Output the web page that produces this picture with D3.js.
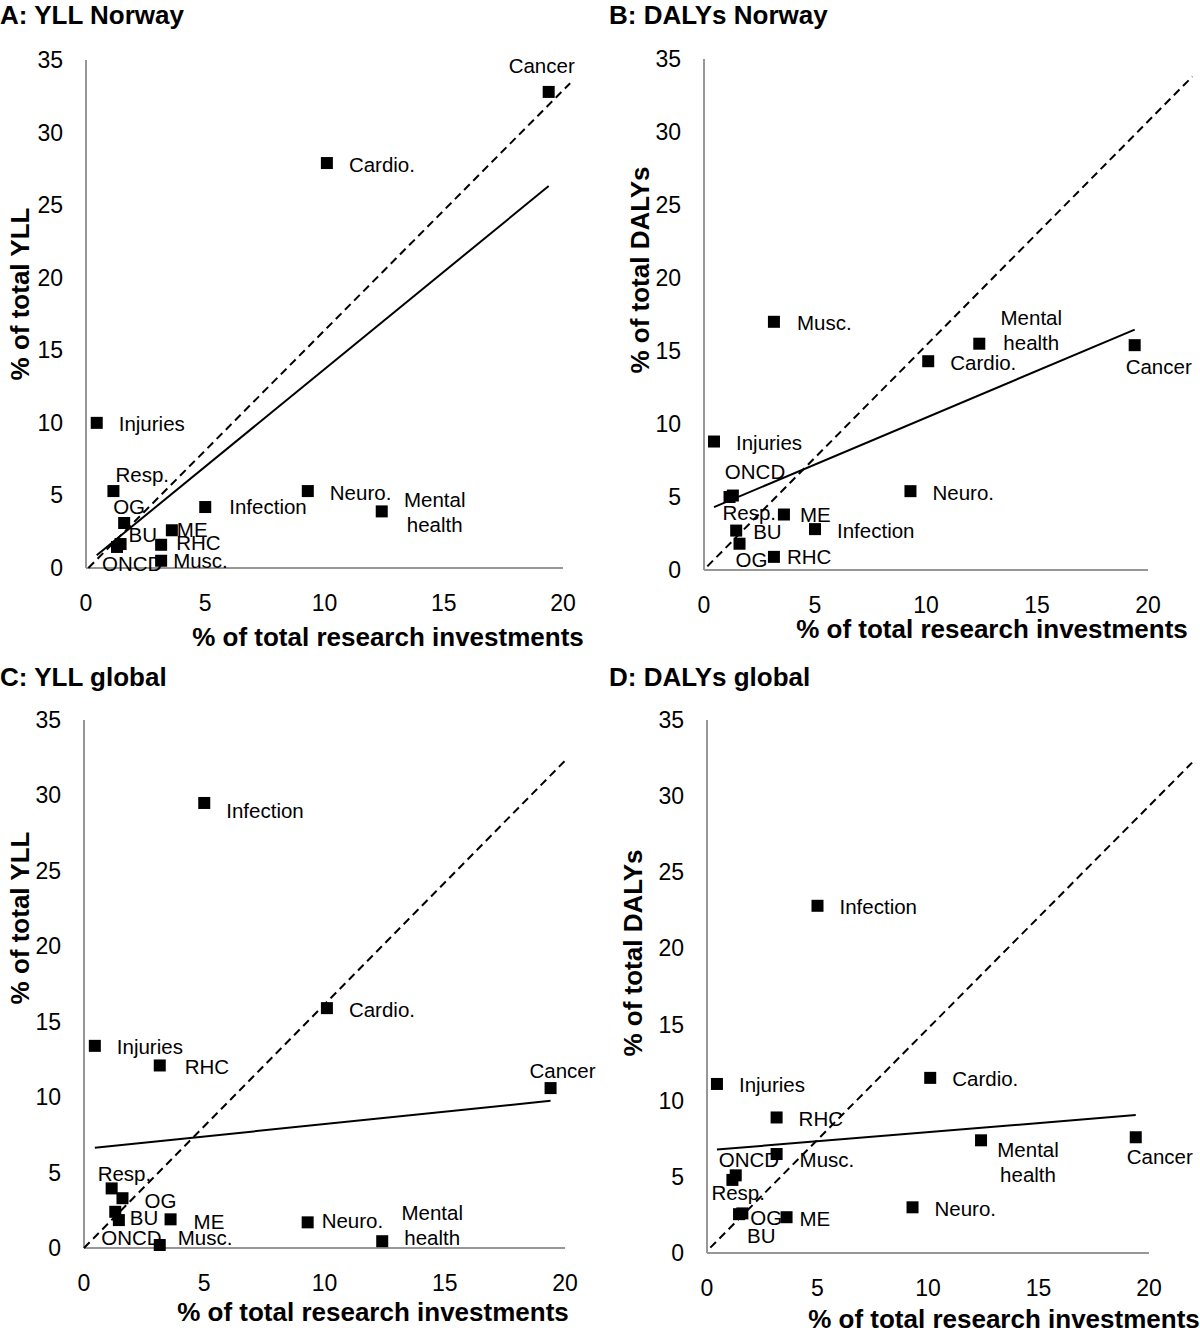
<!DOCTYPE html>
<html>
<head>
<meta charset="utf-8">
<script src="https://cdn.jsdelivr.net/npm/d3@7"></script>
<style>
  html, body { margin: 0; padding: 0; background: #fff; }
  svg { display: block; }
  text { font-family: "Liberation Sans", Arial, Helvetica, sans-serif; fill: #000; }
</style>
</head>
<body>
<svg id="chart" width="1200" height="1334"></svg>
<script>
// ---------------- DATA ----------------
const categories = ["Cancer", "Cardio.", "Injuries", "Resp.", "OG", "BU", "ONCD", "ME", "RHC", "Musc.", "Infection", "Neuro.", "Mental health"];
// % of total research investments (x, shared by all panels)
const investment = [19.4, 10.1, 0.45, 1.15, 1.6, 1.45, 1.3, 3.6, 3.15, 3.15, 5.0, 9.3, 12.4];
// % of total burden (y)
const yllNorway  = [32.8, 27.9, 10.0, 5.3, 3.1, 1.65, 1.45, 2.6, 1.6, 0.5, 4.2, 5.3, 3.9];
const dalyNorway = [15.4, 14.3, 8.8, 5.0, 1.8, 2.7, 5.1, 3.8, 0.9, 17.0, 2.8, 5.4, 15.5];
const yllGlobal  = [10.6, 15.9, 13.4, 3.95, 3.3, 1.85, 2.4, 1.9, 12.1, 0.2, 29.5, 1.7, 0.45];
const dalyGlobal = [7.6, 11.5, 11.1, 4.8, 2.6, 2.55, 5.1, 2.35, 8.9, 6.5, 22.8, 3.0, 7.4];
const xTicks = [0, 5, 10, 15, 20];
const yTicks = [0, 5, 10, 15, 20, 25, 30, 35];
const panelTitles = ["A: YLL Norway", "B: DALYs Norway", "C: YLL global", "D: DALYs global"];
const yTitles = ["% of total YLL", "% of total DALYs", "% of total YLL", "% of total DALYs"];
const xTitle = "% of total research investments";
// dashed reference line endpoints, in data units [x0, y0, x1, y1]
const refLines = [[0.1, 0, 20.3, 33.4], [0.15, 0.25, 22.0, 33.8], [0, 0, 20.0, 32.3], [0.15, 0.35, 21.95, 32.2]];

// ---------------- LAYOUT (pixels) ----------------
const layout = [
  { x: [86, 563],  y: [568, 60],   title: [0, 15],   xt: [388, 637],  yt: [20, 294] },
  { x: [704, 1148], y: [570, 59],  title: [609, 15], xt: [992, 629],  yt: [640, 270] },
  { x: [84, 565],  y: [1248, 720], title: [0, 677],  xt: [373, 1312], yt: [20, 918] },
  { x: [707, 1149], y: [1253, 720], title: [609, 677], xt: [1004, 1319], yt: [633, 953] }
];
// label placement [anchor, dx, dy] relative to marker, order matches categories
const labelPos = [
  [["m",-7,-26],["s",22,1],["s",22,1],["s",2,-17],["s",-11,-17],["s",8,-10],["s",-15,17],["s",5,-1],["s",15,-2],["s",12,0],["s",24,-1],["s",22,1],["m",53,-12]],
  [["m",24,21],["s",22,1],["s",22,1],["s",-7,15],["s",-4,16],["s",17,1],["s",-8,-24],["s",16,0],["s",13,0],["s",23,1],["s",22,1],["s",22,1],["m",52,-27]],
  [["m",12,-18],["s",22,1],["s",22,1],["s",-14,-15],["s",22,2],["s",11,-3],["s",-14,26],["s",23,2],["s",25,1],["s",18,-7],["s",22,8],["s",14,-2],["m",50,-29]],
  [["m",24,19],["s",22,1],["s",22,1],["s",-21,13],["s",8,4],["s",8,21],["s",-17,-16],["s",13,1],["s",22,1],["s",23,5],["s",22,1],["s",22,1],["m",47,9]]
];

const series = [yllNorway, dalyNorway, yllGlobal, dalyGlobal];
const svg = d3.select("#chart");

function fit(xs, ys) {
  const mx = d3.mean(xs), my = d3.mean(ys);
  let sxy = 0, sxx = 0;
  xs.forEach((x, i) => { sxy += (x - mx) * (ys[i] - my); sxx += (x - mx) * (x - mx); });
  const b = sxy / sxx;
  return { b, a: my - b * mx };
}

series.forEach((vals, p) => {
  const L = layout[p];
  const x = d3.scaleLinear().domain([0, 20]).range(L.x);
  const y = d3.scaleLinear().domain([0, 35]).range(L.y);
  const g = svg.append("g");

  // title
  g.append("text").attr("x", L.title[0]).attr("y", L.title[1]).attr("dominant-baseline", "central")
    .style("font-size", "26px").style("font-weight", "bold").text(panelTitles[p]);

  // axes lines
  g.append("line").attr("x1", x(0)).attr("x2", x(0)).attr("y1", y(35)).attr("y2", y(0))
    .attr("stroke", "#979797").attr("stroke-width", 2);
  g.append("line").attr("x1", x(0)).attr("x2", x(20)).attr("y1", y(0)).attr("y2", y(0))
    .attr("stroke", "#979797").attr("stroke-width", 2);

  // tick labels
  g.selectAll(".xt").data(xTicks).enter().append("text")
    .attr("x", d => x(d)).attr("y", y(0) + 35).attr("text-anchor", "middle").attr("dominant-baseline", "central")
    .style("font-size", "23px").text(d => d);
  g.selectAll(".yt").data(yTicks).enter().append("text")
    .attr("x", x(0) - 23).attr("y", d => y(d)).attr("text-anchor", "end").attr("dominant-baseline", "central")
    .style("font-size", "23px").text(d => d);

  // axis titles
  g.append("text").attr("x", L.xt[0]).attr("y", L.xt[1]).attr("text-anchor", "middle").attr("dominant-baseline", "central")
    .style("font-size", "26px").style("font-weight", "bold").text(xTitle);
  g.append("text").attr("transform", `translate(${L.yt[0]},${L.yt[1]}) rotate(-90)`)
    .attr("text-anchor", "middle").attr("dominant-baseline", "central")
    .style("font-size", "26px").style("font-weight", "bold").text(yTitles[p]);

  // dashed reference line
  const r = refLines[p];
  g.append("line").attr("x1", x(r[0])).attr("y1", y(r[1])).attr("x2", x(r[2])).attr("y2", y(r[3]))
    .attr("stroke", "#000").attr("stroke-width", 2).attr("stroke-dasharray", "8,5");

  // linear trend line
  const f = fit(investment, vals);
  const xmin = d3.min(investment), xmax = d3.max(investment);
  g.append("line").attr("x1", x(xmin)).attr("y1", y(f.a + f.b * xmin)).attr("x2", x(xmax)).attr("y2", y(f.a + f.b * xmax))
    .attr("stroke", "#000").attr("stroke-width", 2);

  // markers
  const pts = categories.map((c, i) => ({ c, xv: investment[i], yv: vals[i], lp: labelPos[p][i] }));
  g.selectAll(".pt").data(pts).enter().append("rect")
    .attr("x", d => x(d.xv) - 6).attr("y", d => y(d.yv) - 6).attr("width", 12).attr("height", 12).attr("fill", "#000");

  // labels
  pts.forEach(d => {
    const px = x(d.xv) + d.lp[1], py = y(d.yv) + d.lp[2];
    const t = g.append("text").attr("x", px).attr("y", py)
      .attr("text-anchor", d.lp[0] === "m" ? "middle" : "start").attr("dominant-baseline", "central")
      .style("font-size", "20.5px");
    if (d.c === "Mental health") {
      t.append("tspan").attr("x", px).attr("y", py).text("Mental");
      t.append("tspan").attr("x", px).attr("y", py + 25).text("health");
    } else {
      t.text(d.c);
    }
  });
});
</script>
</body>
</html>
